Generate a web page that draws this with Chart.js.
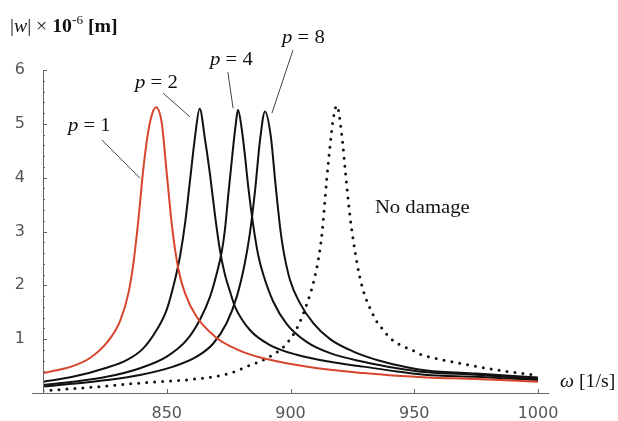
<!DOCTYPE html>
<html>
<head>
<meta charset="utf-8">
<script src="https://cdn.jsdelivr.net/npm/chart.js@4/dist/chart.umd.min.js"></script>
<style>
  body { margin: 0; background: #fff; }
</style>
</head>
<body>
<canvas id="chart" width="618" height="421"></canvas>
<script>
// values: omega [1/s] and |w| x 1e-6 [m]
var omegaP1 = [800, 812, 819, 825.7, 831, 834.5, 836.5, 838.5, 840.5, 842.5, 844.2, 845.7, 848, 850, 852.3, 854.7, 857.4, 862, 870.2, 876, 882, 889, 902.5, 916, 929.4, 943, 955, 975, 1000];
var ampP1   = [0.37, 0.50, 0.65, 0.93, 1.32, 1.85, 2.40, 3.20, 4.15, 4.85, 5.20, 5.31, 5.01, 4.08, 3.03, 2.30, 1.85, 1.42, 1.02, 0.86, 0.74, 0.645, 0.52, 0.43, 0.37, 0.32, 0.29, 0.26, 0.21];

var omegaP2 = [800, 812, 825.7, 833.8, 840.5, 845.9, 850, 853.3, 855.4, 857.4, 859.4, 861.4, 863.3, 865.5, 867.5, 869.5, 871.5, 873.5, 875.6, 877.6, 883.6, 891.7, 902.5, 916, 929.4, 943, 954, 975, 1000];
var ampP2   = [0.21, 0.30, 0.47, 0.61, 0.83, 1.17, 1.55, 2.10, 2.55, 3.15, 3.95, 4.75, 5.28, 4.70, 4.05, 3.30, 2.65, 2.20, 1.88, 1.60, 1.17, 0.89, 0.71, 0.58, 0.49, 0.40, 0.34, 0.30, 0.24];

var omegaP4 = [800, 812, 825.7, 839.2, 850, 858.1, 863.4, 867.5, 870.2, 872.2, 873.5, 874.9, 876.9, 877.9, 878.8, 880.3, 881.5, 883, 885, 887, 889, 893, 898.5, 906.5, 916, 929.4, 943, 954, 975, 1000];
var ampP4   = [0.15, 0.21, 0.30, 0.46, 0.675, 0.985, 1.36, 1.79, 2.22, 2.62, 3.03, 3.70, 4.60, 5.00, 5.26, 4.90, 4.45, 3.80, 3.10, 2.55, 2.20, 1.70, 1.28, 0.95, 0.74, 0.58, 0.46, 0.39, 0.34, 0.26];

var omegaP8 = [800, 812, 825.7, 839.2, 852.6, 862.1, 868.8, 874.2, 878.3, 881.5, 883.6, 885.7, 887.7, 889.7, 892, 894, 896, 897.1, 899.8, 903.8, 909.2, 916, 925.4, 936, 947, 955, 975, 1000];
var ampP8   = [0.12, 0.17, 0.24, 0.335, 0.49, 0.675, 0.92, 1.30, 1.79, 2.40, 2.97, 3.77, 4.70, 5.23, 4.78, 3.85, 3.0, 2.66, 2.10, 1.67, 1.30, 1.00, 0.77, 0.60, 0.48, 0.42, 0.36, 0.29];

var omegaNoDamage = [800, 823, 840.5, 859.4, 874.2, 877.6, 882.3, 890.4, 898.5, 903.2, 906.5, 909.2, 911.2, 912.6, 913.5, 914.6, 916, 917.3, 918.7, 920.7, 922.2, 924, 926, 928, 930.1, 932.5, 934.8, 937.5, 940.2, 944, 949, 952.3, 959, 968.5, 979.3, 987.3, 1000];
var ampNoDamage   = [0.04, 0.12, 0.19, 0.25, 0.35, 0.40, 0.49, 0.645, 0.92, 1.26, 1.64, 2.04, 2.47, 2.91, 3.35, 3.95, 4.60, 5.10, 5.34, 4.80, 4.10, 3.30, 2.65, 2.15, 1.80, 1.54, 1.33, 1.17, 1.02, 0.90, 0.80, 0.72, 0.64, 0.55, 0.46, 0.40, 0.33];

var xTicks = [850, 900, 950, 1000];
var yTicks = [1, 2, 3, 4, 5, 6];

// curve labels: text, text anchor and leader line in data units
var curveLabels = [
    { p: '1', at: [810.1, 4.87], from: [823.8, 4.70], to: [839.2, 3.99] },
    { p: '2', at: [837.2, 5.67], from: [848.5, 5.57], to: [859.4, 5.13] },
    { p: '4', at: [867.5, 6.09], from: [874.7, 5.96], to: [876.8, 5.29] },
    { p: '8', at: [896.6, 6.50], from: [901.0, 6.37], to: [892.5, 5.20] }
];

var serif = '"Liberation Serif", "Times New Roman", serif';

function puntos(xs, ys) {
    return xs.map(function (x, i) { return { x: x, y: ys[i] }; });
}

function linea(label, xs, ys, color, extra) {
    var ds = {
        label: label,
        data: puntos(xs, ys),
        borderColor: color,
        borderWidth: 2,
        pointRadius: 0,
        fill: false,
        cubicInterpolationMode: 'monotone'
    };
    for (var k in extra) { ds[k] = extra[k]; }
    return ds;
}

// draws a run of text pieces, slightly stretched like the original
function texto(ctx, x, y, piezas, sx) {
    ctx.save();
    ctx.translate(x, y);
    ctx.scale(sx, 1);
    var cx = 0;
    piezas.forEach(function (p) {
        ctx.font = p.font;
        ctx.fillText(p.t, cx, p.dy || 0);
        cx += ctx.measureText(p.t).width;
    });
    ctx.restore();
}

var decoraciones = {
    id: 'decoraciones',
    afterDraw: function (chart) {
        var ctx = chart.ctx;
        var xs = chart.scales.x, ys = chart.scales.y;
        var x0 = xs.getPixelForValue(800), y0 = ys.getPixelForValue(0);

        ctx.save();
        ctx.strokeStyle = '#666';
        ctx.lineWidth = 1;
        ctx.beginPath();
        // axes
        ctx.moveTo(Math.round(x0) + 0.5, ys.getPixelForValue(6));
        ctx.lineTo(Math.round(x0) + 0.5, y0);
        ctx.moveTo(x0 - 11, Math.round(y0) + 0.5);
        ctx.lineTo(xs.getPixelForValue(1000) + 11, Math.round(y0) + 0.5);
        // y ticks pointing inwards, minor every 0.2
        for (var i = 1; i <= 30; i++) {
            var py = Math.round(ys.getPixelForValue(i * 0.2)) + 0.5;
            var len = (i % 5 === 0) ? 4 : 2;
            ctx.moveTo(x0, py);
            ctx.lineTo(x0 + len, py);
        }
        xTicks.forEach(function (v) {
            var px = Math.round(xs.getPixelForValue(v)) + 0.5;
            ctx.moveTo(px, y0);
            ctx.lineTo(px, y0 - 4);
        });
        ctx.stroke();

        // leader lines
        ctx.strokeStyle = '#444';
        ctx.beginPath();
        curveLabels.forEach(function (l) {
            ctx.moveTo(xs.getPixelForValue(l.from[0]), ys.getPixelForValue(l.from[1]));
            ctx.lineTo(xs.getPixelForValue(l.to[0]), ys.getPixelForValue(l.to[1]));
        });
        ctx.stroke();

        ctx.fillStyle = '#111';
        ctx.textBaseline = 'alphabetic';
        ctx.textAlign = 'left';
        curveLabels.forEach(function (l) {
            texto(ctx, xs.getPixelForValue(l.at[0]), ys.getPixelForValue(l.at[1]), [
                { t: 'p', font: 'italic 18px ' + serif },
                { t: ' = ' + l.p, font: '18px ' + serif }
            ], 1.15);
        });
        texto(ctx, xs.getPixelForValue(934.1), ys.getPixelForValue(3.34), [
            { t: 'No damage', font: '18px ' + serif }
        ], 1.15);

        // axis titles
        texto(ctx, 10, 32, [
            { t: '|', font: '18px ' + serif },
            { t: 'w', font: 'italic 18px ' + serif },
            { t: '| \u00d7 ', font: '18px ' + serif },
            { t: '10', font: 'bold 18px ' + serif },
            { t: '-6', font: '12px ' + serif, dy: -8 },
            { t: ' [m]', font: 'bold 18px ' + serif }
        ], 1.1);
        texto(ctx, 560, 387, [
            { t: '\u03c9', font: 'italic 18px ' + serif },
            { t: ' [1/s]', font: '18px ' + serif }
        ], 1.1);
        ctx.restore();
    }
};

var tickFont = { family: '"DejaVu Sans", sans-serif', size: 16 };

new Chart(document.getElementById('chart'), {
    type: 'line',
    data: {
        datasets: [
            linea('p = 1', omegaP1, ampP1, '#d8452f'),
            linea('p = 2', omegaP2, ampP2, '#111'),
            linea('p = 4', omegaP4, ampP4, '#111'),
            linea('p = 8', omegaP8, ampP8, '#111'),
            linea('No damage', omegaNoDamage, ampNoDamage, '#111', { borderWidth: 3, borderDash: [0, 8], borderCapStyle: 'round' })
        ]
    },
    options: {
        responsive: false,
        animation: false,
        layout: { padding: { left: 0, top: 70, right: 80, bottom: 0 } },
        plugins: { legend: { display: false }, tooltip: { enabled: false } },
        scales: {
            x: {
                type: 'linear', min: 800, max: 1000,
                grid: { display: false }, border: { display: false },
                ticks: { font: tickFont, color: '#555', padding: 3, maxRotation: 0,
                         callback: function (v) { return String(v); } },
                afterBuildTicks: function (s) { s.ticks = xTicks.map(function (v) { return { value: v }; }); },
                afterFit: function (s) { s.height = 28; }
            },
            y: {
                min: 0, max: 6,
                grid: { display: false }, border: { display: false },
                ticks: { font: tickFont, color: '#555', padding: 10 },
                afterBuildTicks: function (s) { s.ticks = yTicks.map(function (v) { return { value: v }; }); },
                afterFit: function (s) { s.width = 43; }
            }
        }
    },
    plugins: [decoraciones]
});
</script>
</body>
</html>
